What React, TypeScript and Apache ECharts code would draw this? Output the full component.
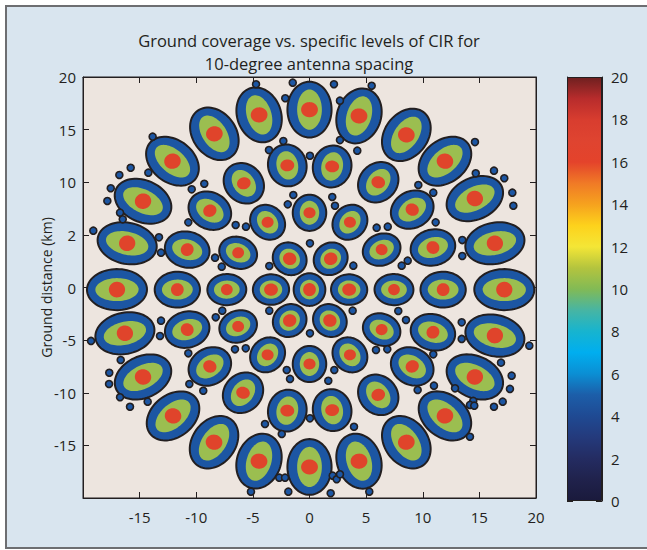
import React, { useEffect, useRef } from 'react';
import * as echarts from 'echarts';

const titleLines = ['Ground coverage vs. specific levels of CIR for', '10-degree antenna spacing'];
const yAxisName = 'Ground distance (km)';

const xTickValues = [-20, -15, -10, -5, 0, 5, 10, 15, 20];
const xTickLabels = ['', '-15', '-10', '-5', '0', '5', '10', '15', '20'];
const yTickValues = [-20, -15, -10, -5, 0, 5, 10, 15, 20];
const yTickLabels = ['', '-15', '-10', '-5', '0', '2', '10', '15', '20'];

// colour scale (CIR levels)
const cbValues = [0, 1, 2, 3, 4, 5, 6, 7, 8, 9, 10, 11, 12, 13, 14, 15, 16, 17, 18, 19, 20];
const cbColors = [
  '#1a1a3c', '#20224c', '#242c62', '#243a7c', '#1f4a93', '#1c5ea9', '#0b8fd4', '#00aeef',
  '#17b4cf', '#47b5a3', '#82ba55', '#b4c43e', '#f4e636', '#fdd21c', '#f6a21e', '#f07a26',
  '#e4432b', '#df4430', '#d83d2f', '#b82c2c', '#6f2020',
];
const cbMax = 20;

// beams: [x km, y km, radial semi-axis km, tangential semi-axis km, ring]
const beamsCenter = [[0, -0.2, 1.55, 1.4, 0]];
const beamsRing1 = [
  [3.5, -0.2, 1.6, 1.45, 1], [1.87, 2.73, 1.6, 1.45, 1], [-1.75, 2.73, 1.6, 1.45, 1],
  [-3.4, -0.2, 1.6, 1.45, 1], [-1.75, -3.14, 1.6, 1.45, 1], [1.8, -3.14, 1.6, 1.45, 1],
];
const beamsRing2 = [
  [7.46, -0.2, 1.72, 1.48, 2], [6.37, 3.6, 1.72, 1.48, 2], [3.57, 6.2, 1.72, 1.48, 2],
  [0, 7.1, 1.72, 1.48, 2], [-3.7, 6.2, 1.72, 1.48, 2], [-6.3, 3.3, 1.72, 1.48, 2],
  [-7.3, -0.2, 1.72, 1.48, 2], [-6.3, -3.7, 1.72, 1.48, 2], [-3.7, -6.4, 1.72, 1.48, 2],
  [0, -7.27, 1.72, 1.48, 2], [3.57, -6.4, 1.72, 1.48, 2], [6.37, -4.0, 1.72, 1.48, 2],
];
const beamsRing3 = [
  [11.8, -0.2, 2.0, 1.7, 3], [10.9, 3.8, 2.0, 1.7, 3], [9.07, 7.4, 2.0, 1.7, 3],
  [6.07, 10.0, 2.0, 1.7, 3], [2.0, 11.5, 2.0, 1.7, 3], [-1.96, 11.6, 2.0, 1.7, 3],
  [-5.8, 9.9, 2.0, 1.7, 3], [-8.8, 7.3, 2.0, 1.7, 3], [-10.8, 3.6, 2.0, 1.7, 3],
  [-11.67, -0.2, 2.0, 1.7, 3], [-10.8, -4.0, 2.0, 1.7, 3], [-8.8, -7.5, 2.0, 1.7, 3],
  [-5.87, -10.0, 2.0, 1.7, 3], [-1.96, -11.7, 2.0, 1.7, 3], [2.0, -11.65, 2.0, 1.7, 3],
  [6.07, -10.2, 2.0, 1.7, 3], [9.07, -7.5, 2.0, 1.7, 3], [10.9, -4.25, 2.0, 1.7, 3],
];
const beamsRing4 = [
  [17.2, -0.2, 2.65, 1.95, 4], [16.37, 4.2, 2.65, 1.95, 4], [14.6, 8.45, 2.65, 1.95, 4],
  [11.96, 12.0, 2.65, 1.95, 4], [8.55, 14.5, 2.65, 1.95, 4], [4.37, 16.3, 2.65, 1.95, 4],
  [0, 16.9, 2.65, 1.95, 4], [-4.45, 16.4, 2.65, 1.95, 4], [-8.4, 14.6, 2.65, 1.95, 4],
  [-12.1, 12.0, 2.65, 1.95, 4], [-14.7, 8.2, 2.65, 1.95, 4], [-16.1, 4.2, 2.65, 1.95, 4],
  [-17.0, -0.2, 2.65, 1.95, 4], [-16.3, -4.35, 2.65, 1.95, 4], [-14.7, -8.5, 2.65, 1.95, 4],
  [-12.05, -12.2, 2.65, 1.95, 4], [-8.43, -14.7, 2.65, 1.95, 4], [-4.46, -16.5, 2.65, 1.95, 4],
  [0, -17.05, 2.65, 1.95, 4], [4.37, -16.5, 2.65, 1.95, 4], [8.55, -14.7, 2.65, 1.95, 4],
  [11.96, -12.2, 2.65, 1.95, 4], [14.6, -8.5, 2.65, 1.95, 4], [16.37, -4.57, 2.65, 1.95, 4],
];

// small interference spots [x km, y km]
const spots = [
  [-4.72, 19.31], [-1.48, 19.46], [-2.14, 17.98], [-13.85, 14.33], [-2.31, 13.92], [-3.58, 13.06],
  [-15.79, 11.38], [-16.79, 10.69], [-14.23, 10.91], [-17.55, 9.43], [-10.4, 9.33], [-9.29, 9.86],
  [-17.85, 8.22], [-16.73, 7.11], [-16.49, 6.48], [-1.43, 8.79], [-1.92, 7.9], [-19.09, 5.4],
  [-10.7, 6.19], [-6.52, 5.94], [-5.61, 5.78], [-13.29, 4.77], [-13.11, 3.31], [-8.34, 2.83],
  [-7.75, 1.98], [-3.55, 2.04],
  [2.16, 19.31], [5.49, 19.17], [2.69, 17.75], [2.69, 14.01], [0.04, 12.52], [4.22, 13.0],
  [14.61, 13.82], [14.68, 10.85], [16.29, 11.1], [17.2, 10.38], [17.91, 9.01], [18.0, 7.77],
  [9.61, 9.74], [10.93, 9.01], [2.01, 8.6], [2.25, 7.77], [11.14, 6.19], [5.93, 5.68],
  [6.91, 5.78], [0.04, 4.2], [13.49, 4.51], [13.49, 2.99], [8.67, 2.55], [8.14, 2.07], [3.87, 2.07],
  [3.81, -2.2], [7.84, -2.23], [8.52, -3.09], [13.44, -3.31], [13.44, -4.89], [19.41, -5.53],
  [0.04, -4.35], [5.87, -5.94], [6.87, -5.87], [10.93, -6.35], [2.19, -7.84], [1.66, -8.86],
  [9.55, -9.74], [10.99, -9.33], [12.85, -9.58], [14.46, -10.78], [14.17, -11.16], [14.55, -11.23],
  [16.29, -11.33], [17.06, -10.85], [17.7, -9.64], [17.85, -8.38], [16.91, -7.14], [0.04, -12.43],
  [3.93, -13.23], [14.17, -14.18], [2.05, -17.88], [2.4, -18.22], [2.69, -17.75], [1.87, -19.55],
  [5.28, -19.4], [-1.87, -19.4],
  [-19.29, -5.08], [-13.11, -3.15], [-13.2, -4.61], [-8.28, -2.83], [-7.7, -2.2], [-3.55, -2.2],
  [-10.7, -6.25], [-6.58, -5.87], [-5.63, -5.78], [-16.67, -6.89], [-17.68, -8.1], [-17.7, -9.17],
  [-16.73, -10.43], [-15.85, -11.33], [-14.29, -10.85], [-10.61, -9.17], [-9.38, -9.81],
  [-2.01, -7.84], [-1.72, -8.69], [-3.93, -12.97], [-2.45, -13.92], [-2.67, -18.07], [-2.16, -18.07],
  [-5.17, -19.4],
];

// inner contour proportions per ring: [green radial, green tangential, red radial, red tangential]
const innerRatios = [
  [0.6, 0.6, 0.4, 0.4],
  [0.62, 0.6, 0.38, 0.4],
  [0.66, 0.58, 0.3, 0.36],
  [0.68, 0.56, 0.28, 0.36],
  [0.72, 0.56, 0.27, 0.38],
];

const FONT = "'Open Sans', 'Noto Sans', sans-serif";
const INK = '#231f20';
const BLUE = '#1c56a3';
const GREEN = '#9bbe50';
const RED = '#e0442b';

export default function App() {
  const ref = useRef<HTMLDivElement>(null);
  useEffect(() => {
    if (!ref.current) return;
    const chart = echarts.init(ref.current, undefined, { renderer: 'svg' });
    const beams = [...beamsCenter, ...beamsRing1, ...beamsRing2, ...beamsRing3, ...beamsRing4];

    const renderItem = (params: any, api: any) => {
      const cx = api.value(0);
      const cy = api.value(1);
      const a = api.value(2);
      const b = api.value(3);
      const ring = api.value(4);
      const th = Math.atan2(cy, cx);
      const ct = Math.cos(th);
      const st = Math.sin(th);
      const poly = (sa: number, sb: number) => {
        const pts: number[][] = [];
        const N = 72;
        for (let k = 0; k < N; k++) {
          const phi = (2 * Math.PI * k) / N;
          const dx = sa * Math.cos(phi);
          const dy = sb * Math.sin(phi);
          pts.push(api.coord([cx + dx * ct - dy * st, cy + dx * st + dy * ct]));
        }
        return pts;
      };
      const r = innerRatios[ring];
      return {
        type: 'group',
        children: [
          { type: 'polygon', shape: { points: poly(a, b) }, style: { fill: BLUE, stroke: INK, lineWidth: 2 } },
          { type: 'polygon', shape: { points: poly(a * r[0], b * r[1]) }, style: { fill: GREEN } },
          { type: 'polygon', shape: { points: poly(a * r[2], b * r[3]) }, style: { fill: RED } },
        ],
      };
    };

    const axisText = { color: INK, fontFamily: FONT, fontSize: 15 };
    const lineStyle = { color: INK, width: 1 };
    const titleStyle = { color: INK, fontFamily: FONT, fontSize: 16.5, fontWeight: 'normal', lineHeight: 18 };

    const gradient = new echarts.graphic.LinearGradient(
      0, 1, 0, 0,
      cbValues.map((v, i) => ({ offset: v / cbMax, color: cbColors[i] }))
    );

    chart.setOption({
      animation: false,
      backgroundColor: 'transparent',
      title: [
        { text: titleLines[0], left: 309, top: 31, padding: 0, textAlign: 'center', textStyle: titleStyle },
        { text: titleLines[1], left: 309, top: 54, padding: 0, textAlign: 'center', textStyle: titleStyle },
      ],
      grid: [
        { left: 83, top: 77, width: 453, height: 421, show: true, backgroundColor: '#ede5df', borderColor: INK, borderWidth: 1 },
        { left: 567, top: 77, width: 35, height: 424, show: false },
      ],
      xAxis: [
        {
          gridIndex: 0, type: 'value', min: -20, max: 20, interval: 5, position: 'bottom',
          axisLine: { show: true, onZero: false, lineStyle },
          axisTick: { show: true, inside: true, length: 6, lineStyle },
          axisLabel: {
            ...axisText, margin: 11,
            formatter: (v: number) => xTickLabels[xTickValues.indexOf(v)] ?? '',
          },
          splitLine: { show: false },
        },
        {
          gridIndex: 0, type: 'value', min: -20, max: 20, interval: 5, position: 'top',
          axisLine: { show: true, onZero: false, lineStyle },
          axisTick: { show: true, inside: true, length: 6, lineStyle },
          axisLabel: { show: false },
          splitLine: { show: false },
        },
        {
          gridIndex: 1, type: 'category', data: ['CIR'],
          axisLine: { show: false }, axisTick: { show: false }, axisLabel: { show: false },
        },
      ],
      yAxis: [
        {
          gridIndex: 0, type: 'value', min: -20, max: 20, interval: 5, position: 'left',
          name: yAxisName, nameLocation: 'middle', nameGap: 30, nameMoveOverlap: false,
          nameTextStyle: { color: INK, fontFamily: FONT, fontSize: 14 },
          axisLine: { show: true, onZero: false, lineStyle },
          axisTick: { show: true, inside: true, length: 6, lineStyle },
          axisLabel: {
            ...axisText, margin: 7,
            formatter: (v: number) => yTickLabels[yTickValues.indexOf(v)] ?? '',
          },
          splitLine: { show: false },
        },
        {
          gridIndex: 0, type: 'value', min: -20, max: 20, interval: 5, position: 'right',
          axisLine: { show: true, onZero: false, lineStyle },
          axisTick: { show: true, inside: true, length: 6, lineStyle },
          axisLabel: { show: false },
          splitLine: { show: false },
        },
        {
          gridIndex: 1, type: 'value', min: 0, max: cbMax, interval: 2, position: 'right',
          axisLine: { show: true, onZero: false, lineStyle },
          axisTick: { show: true, inside: true, length: 6, lineStyle },
          axisLabel: { ...axisText, margin: 9 },
          splitLine: { show: false },
        },
        {
          gridIndex: 1, type: 'value', min: 0, max: cbMax, interval: 2, position: 'left',
          axisLine: { show: true, onZero: false, lineStyle },
          axisTick: { show: true, inside: true, length: 6, lineStyle },
          axisLabel: { show: false },
          splitLine: { show: false },
        },
      ],
      series: [
        {
          type: 'custom', xAxisIndex: 0, yAxisIndex: 0, renderItem, data: beams, silent: true, z: 2,
        },
        {
          type: 'scatter', xAxisIndex: 0, yAxisIndex: 0, data: spots, symbolSize: 7, silent: true, z: 3,
          itemStyle: { color: BLUE, borderColor: INK, borderWidth: 1.6, opacity: 1 },
        },
        {
          type: 'bar', xAxisIndex: 2, yAxisIndex: 2, data: [cbMax], barWidth: '100%', silent: true,
          itemStyle: { color: gradient, borderColor: INK, borderWidth: 1 },
        },
      ],
    });
    return () => chart.dispose();
  }, []);

  return (
    <div style={{ position: 'fixed', left: 0, top: 0, width: 647, height: 550, background: '#ffffff' }}>
      <div
        style={{
          position: 'absolute', left: 5, top: 5, width: 650, height: 544, boxSizing: 'border-box',
          background: '#d9e5ef', borderLeft: '2px solid #6d6e71', borderTop: '2px solid #6d6e71',
          borderBottom: '2px solid #6d6e71',
        }}
      />
      <div ref={ref} style={{ position: 'absolute', left: 0, top: 0, width: 647, height: 550 }} />
    </div>
  );
}
